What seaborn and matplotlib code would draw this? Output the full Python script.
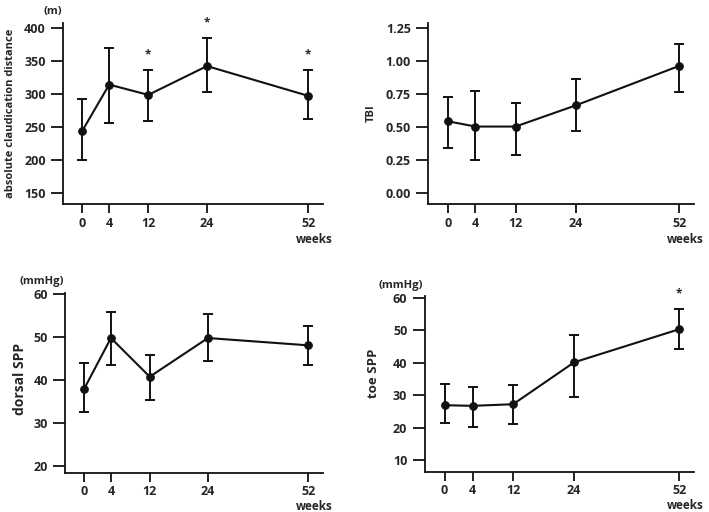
import numpy as np
import pandas as pd
import seaborn as sns
from matplotlib import pyplot as plt

weeks = [0, 4, 12, 24, 52]
week_labels = ["0", "4", "12", "24", "52"]

# absolute claudication distance (m)
acd_mean = [244, 314, 298.5, 342, 297]
acd_low = [200, 256, 259, 303.5, 262]
acd_high = [293, 370, 336, 384, 336]
acd_sig = [False, False, True, True, True]

# TBI
tbi_mean = [0.54, 0.50, 0.50, 0.66, 0.96]
tbi_low = [0.336, 0.25, 0.283, 0.47, 0.76]
tbi_high = [0.725, 0.773, 0.68, 0.86, 1.125]
tbi_sig = [False, False, False, False, False]

# dorsal SPP (mmHg)
dspp_mean = [38.0, 49.8, 40.8, 49.8, 48.1]
dspp_low = [32.7, 43.6, 35.4, 44.4, 43.6]
dspp_high = [43.9, 55.9, 45.9, 55.5, 52.5]
dspp_sig = [False, False, False, False, False]

# toe SPP (mmHg)
tspp_mean = [26.9, 26.7, 27.2, 40.1, 50.3]
tspp_low = [21.4, 20.2, 21.1, 29.5, 44.1]
tspp_high = [33.5, 32.5, 33.2, 48.4, 56.4]
tspp_sig = [False, False, False, False, True]

# uneven spacing of the week axis as drawn in the figure
anchor_weeks = np.array([-20, 0, 4, 12, 24, 52, 80])
anchor_pos = np.array([-31.0, 0, 6.2, 15.2, 28.7, 52, 75.3])


def fwd(x):
    return np.interp(x, anchor_weeks, anchor_pos)


def inv(p):
    return np.interp(p, anchor_pos, anchor_weeks)


def long_frame(low, mean, high):
    rows = []
    for w, lo, m, hi in zip(weeks, low, mean, high):
        for v in (lo, m, hi):
            rows.append({"weeks": w, "value": v})
    return pd.DataFrame(rows)


sns.set_theme(style="ticks")
plt.rcParams["font.family"] = ["Open Sans", "DejaVu Sans"]
plt.rcParams["font.weight"] = "bold"
plt.rcParams["axes.labelweight"] = "bold"
plt.rcParams["axes.linewidth"] = 1.3

fig = plt.figure(figsize=(7.09, 5.12), dpi=100)

# rect, data..., ylabel, unit, ylim, yticks, yticklabels, weeks offset, x pad, ylabel size, ylabel x/y
panels = [
    ([0.089, 0.602, 0.366, 0.353], acd_low, acd_mean, acd_high, acd_sig,
     "absolute claudication distance", "(m)", (134, 407),
     [150, 200, 250, 300, 350, 400], ["150", "200", "250", "300", "350", "400"],
     -26, 3, 8, (-0.181, 0.5)),
    ([0.604, 0.602, 0.375, 0.354], tbi_low, tbi_mean, tbi_high, tbi_sig,
     "TBI", None, (-0.085, 1.288),
     [0, 0.25, 0.5, 0.75, 1.0, 1.25], ["0.00", "0.25", "0.50", "0.75", "1.00", "1.25"],
     -26, 3, 8, (-0.195, 0.5)),
    ([0.092, 0.076, 0.363, 0.352], dspp_low, dspp_mean, dspp_high, dspp_sig,
     "dorsal SPP", "(mmHg)", (18.4, 60.3),
     [20, 30, 40, 50, 60], ["20", "30", "40", "50", "60"],
     -24, 2, 10, (-0.147, 0.52)),
    ([0.599, 0.078, 0.380, 0.343], tspp_low, tspp_mean, tspp_high, tspp_sig,
     "toe SPP", "(mmHg)", (6.3, 60.4),
     [10, 20, 30, 40, 50, 60], ["10", "20", "30", "40", "50", "60"],
     -24, 2, 9.5, (-0.166, 0.56)),
]

for (rect, low, mean, high, sig, ylabel, unit, ylim, yticks, yticklabels,
     wk_off, xpad, ylab_size, ylab_xy) in panels:
    ax = fig.add_axes(rect)
    df = long_frame(low, mean, high)
    sns.lineplot(
        data=df, x="weeks", y="value", ax=ax,
        estimator="median",
        errorbar=lambda v: (v.min(), v.max()),
        err_style="bars",
        err_kws={"capsize": 3.6, "elinewidth": 1.4, "capthick": 1.4},
        color="#111111", linewidth=1.5,
        marker="o", markersize=5.5, markeredgecolor="#111111",
    )
    ax.set_xscale("function", functions=(fwd, inv))
    ax.set_xlim(inv(-4.4), inv(55.3))
    ax.set_xticks(weeks)
    ax.set_xticklabels(week_labels)
    ax.set_ylim(*ylim)
    ax.set_yticks(yticks)
    ax.set_yticklabels(yticklabels)
    ax.set_xlabel("")
    ax.set_ylabel(ylabel, fontsize=ylab_size)
    ax.yaxis.set_label_coords(*ylab_xy)
    ax.tick_params(axis="y", length=8.5, width=1.3, pad=4, labelsize=9, color="#111111")
    ax.tick_params(axis="x", length=6.5, width=1.3, pad=xpad, labelsize=9, color="#111111")
    for s in ["top", "right"]:
        ax.spines[s].set_visible(False)
    for s in ["left", "bottom"]:
        ax.spines[s].set_color("#111111")

    for w, hi, flag in zip(weeks, high, sig):
        if flag:
            ax.annotate("*", xy=(w, hi), xytext=(0, 11), textcoords="offset points",
                        ha="center", va="center", fontsize=8.5, annotation_clip=False)
    if unit:
        ax.annotate(unit, xy=(0, 1), xycoords="axes fraction", xytext=(-1, 8),
                    textcoords="offset points", ha="right", va="center", fontsize=8)
    ax.annotate("weeks", xy=(1, 0), xycoords="axes fraction", xytext=(7, wk_off),
                textcoords="offset points", ha="right", va="center", fontsize=8.5)

fig.savefig("out.png", dpi=100)
